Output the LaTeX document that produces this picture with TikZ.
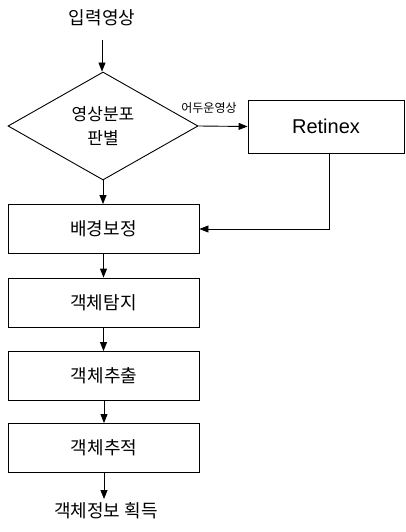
\documentclass[tikz,border=0pt]{standalone}
\usepackage{fontspec}
\newfontfamily\kr{Noto Sans CJK KR}
\newfontfamily\arialf{Liberation Sans}
\usetikzlibrary{shapes.geometric,arrows.meta}
\begin{document}
\begin{tikzpicture}[x=1pt,y=-1pt,
  line width=0.9pt,
  arr/.style={-{Triangle[length=9pt,width=7pt]}},
  procbox/.style={draw, rectangle, minimum width=191pt, minimum height=49pt, inner sep=0pt, font=\kr\fontsize{18}{20}\selectfont},
  lbl/.style={font=\kr\fontsize{18}{20}\selectfont, inner sep=3pt}]
\useasboundingbox (0,0) rectangle (405,532);
\node[lbl] (in) at (102,18) {입력영상};
\node[draw, diamond, minimum width=190pt, minimum height=108pt, aspect=1.76, inner sep=0pt, align=center, font=\kr\fontsize{17}{24}\selectfont] (dia) at (103,126) {영상분포\\판별};
\node[draw, rectangle, minimum width=156pt, minimum height=53pt, inner sep=0pt, font=\arialf\fontsize{20}{22}\selectfont] (ret) at (326,126.5) {Retinex};
\node[procbox] (bg) at (103.5,229) {배경보정};
\node[procbox] (det) at (103.5,302.5) {객체탐지};
\node[procbox] (ext) at (104,376) {객체추출};
\node[procbox] (trk) at (104,448) {객체추적};
\node[lbl, anchor=north] (out) at (106,499) {객체정보 획득};
\node[font=\kr\fontsize{12}{13}\selectfont, inner sep=0pt] (dark) at (209,108) {어두운영상};
\coordinate (tin) at ([yshift=-10pt]in.south);
\draw[arr] (tin) -- (tin |- dia.north);
\draw[arr] (dia.east) -- (ret.west);
\draw[arr] ([xshift=3pt]ret.south) |- (bg.east);
\draw[arr] (dia.south) -- (dia.south |- bg.north);
\draw[arr] (bg.south) -- (det.north);
\draw[arr] (det.south) -- (det.south |- ext.north);
\draw[arr] (ext.south) -- (trk.north);
\draw[arr] (trk.south) -- (trk.south |- out.north);
\end{tikzpicture}
\end{document}
